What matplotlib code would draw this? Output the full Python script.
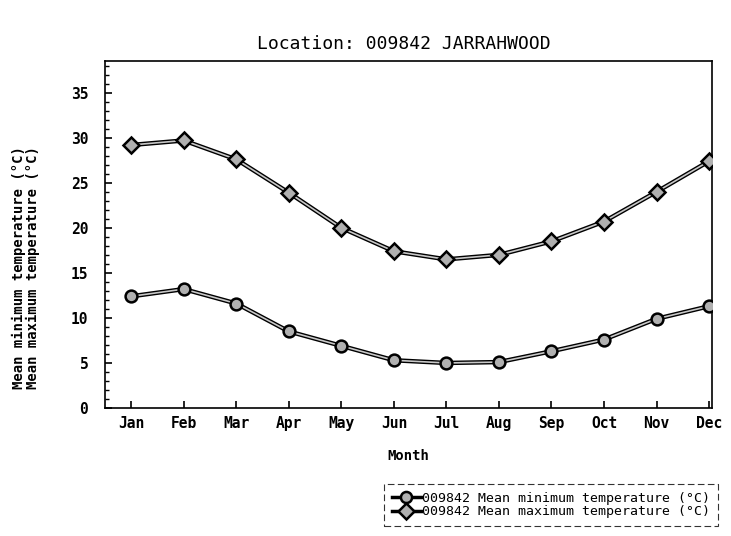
import matplotlib
matplotlib.use('Agg')
import matplotlib.pyplot as plt
from matplotlib.lines import Line2D
import numpy as np

months = ['Jan', 'Feb', 'Mar', 'Apr', 'May', 'Jun', 'Jul', 'Aug', 'Sep', 'Oct', 'Nov', 'Dec']
t_min = [12.4, 13.2, 11.6, 8.5, 6.9, 5.3, 5.0, 5.1, 6.3, 7.6, 9.9, 11.3]
t_max = [29.2, 29.7, 27.6, 23.9, 20.0, 17.4, 16.5, 17.0, 18.5, 20.7, 24.0, 27.4]
station = '009842'

plt.rcParams['font.family'] = ['DejaVu Sans Mono']

fig = plt.figure(figsize=(7.31, 5.36), dpi=100)
ax = fig.add_axes([0.1436, 0.2388, 0.830, 0.647])

x = np.arange(1, 13)

# double-stroke lines like the original print
for vals, mk in [(t_min, 'o'), (t_max, 'D')]:
    ax.plot(x, vals, color='black', lw=3.2, zorder=2)
    ax.plot(x, vals, color='#c8c8c8', lw=1.2, zorder=3)
    ax.plot(x, vals, ls='none', marker=mk, ms=8.5, mfc='#b0b0b0', mec='black',
            mew=1.8, zorder=4)

ax.set_xlim(0.5, 12.05)
ax.set_ylim(0, 38.5)
ax.set_xticks(x)
ax.set_xticklabels(months, fontsize=10.5, fontweight='bold')
ax.set_yticks(np.arange(0, 36, 5))
ax.set_yticks(np.arange(0, 39, 1), minor=True)
ax.set_yticklabels([str(v) for v in range(0, 36, 5)], fontsize=10.5, fontweight='bold')
ax.tick_params(axis='both', direction='in', length=5, width=1.2, pad=6)
ax.tick_params(axis='y', which='minor', direction='in', length=3, width=1)
ax.tick_params(axis='y', pad=12)
for s in ax.spines.values():
    s.set_linewidth(1.2)

ax.set_xlabel('Month', fontsize=10, fontweight='bold', labelpad=13)
fig.text(0.035, 0.5, 'Mean minimum temperature (°C)\nMean maximum temperature (°C)',
         rotation=90, ha='center', va='center', fontsize=10, fontweight='bold',
         linespacing=1.0)

fig.suptitle('Location: %s JARRAHWOOD' % station, x=0.552, y=0.935, fontsize=13)

# legend box at bottom right
handles = [
    Line2D([0], [0], color='black', lw=2.5, marker='o', ms=8, mfc='#b0b0b0', mec='black', mew=1.8),
    Line2D([0], [0], color='black', lw=2.5, marker='D', ms=8, mfc='#b0b0b0', mec='black', mew=1.8),
]
labels = ['%s Mean minimum temperature (°C)' % station,
          '%s Mean maximum temperature (°C)' % station]
leg = fig.legend(handles, labels, loc='lower left', bbox_to_anchor=(0.525, 0.018),
                 frameon=True, fancybox=False, edgecolor='black', fontsize=9.5,
                 handlelength=2.2, handletextpad=0.1, labelspacing=0.05,
                 borderpad=0.6, borderaxespad=0.0)
leg.get_frame().set_linestyle((0, (6, 3)))
leg.get_frame().set_linewidth(0.8)

fig.savefig('out.png', dpi=100)
